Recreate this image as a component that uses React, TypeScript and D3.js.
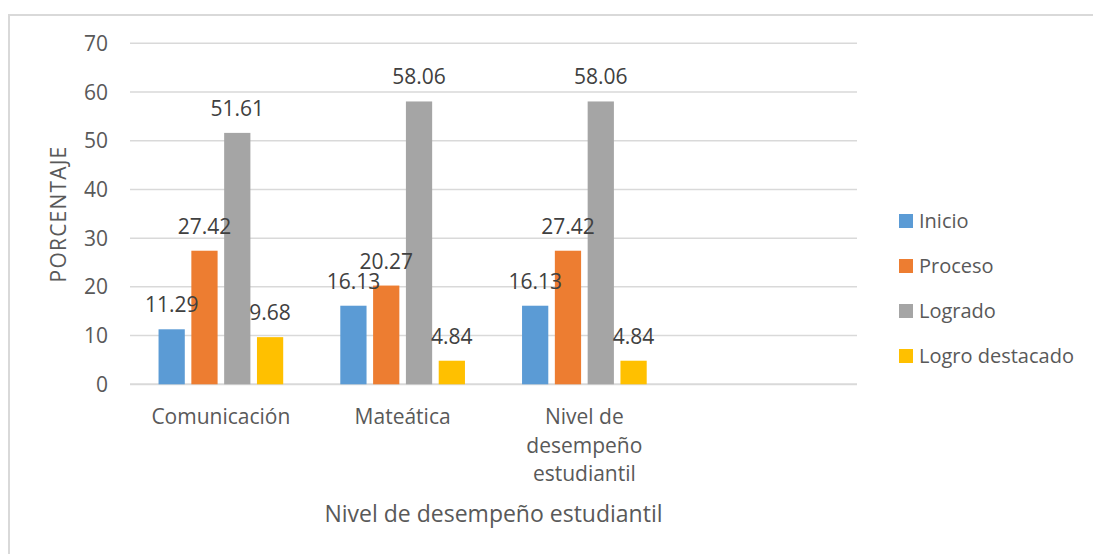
import React, { useEffect, useRef } from 'react';
import * as d3 from 'd3';

const categories = ['Comunicación', 'Mateática', 'Nivel de desempeño estudiantil'];
const series = ['Inicio', 'Proceso', 'Logrado', 'Logro destacado'];
const inicio = [11.29, 16.13, 16.13];
const proceso = [27.42, 20.27, 27.42];
const logrado = [51.61, 58.06, 58.06];
const logroDestacado = [9.68, 4.84, 4.84];
const colors = ['#5B9BD5', '#ED7D31', '#A5A5A5', '#FFC000'];
const yTicks = [0, 10, 20, 30, 40, 50, 60, 70];

const W = 1093;
const H = 554;
const FONT = "'Open Sans', sans-serif";
const TEXT = '#595959';

const App = () => {
  const svgRef = useRef<SVGSVGElement>(null);

  useEffect(() => {
    const svg = d3.select(svgRef.current);
    svg.selectAll('*').remove(); // clear

    const values = [inicio, proceso, logrado, logroDestacado];
    // excel leaves one empty slot at the right
    const slots = [...categories, ''];

    const x0 = d3.scaleBand().domain(slots).range([130, 857]);
    const x1 = d3
      .scaleBand()
      .domain(series)
      .range([0, x0.bandwidth()])
      .paddingInner(0.2)
      .paddingOuter(0.87);
    const y = d3.scaleLinear().domain([0, 70]).range([384.3, 43.3]);

    // outer border of the chart area
    svg.append('rect')
      .attr('x', 9).attr('y', 15)
      .attr('width', 1200).attr('height', 700)
      .attr('fill', 'white')
      .attr('stroke', '#d9d9d9')
      .attr('stroke-width', 2);

    // gridlines
    svg.append('g')
      .selectAll('line')
      .data(yTicks)
      .enter()
      .append('line')
      .attr('x1', 130).attr('x2', 857)
      .attr('y1', (d) => y(d)).attr('y2', (d) => y(d))
      .attr('stroke', '#d9d9d9')
      .attr('stroke-width', (d) => (d === 0 ? 2 : 1.5));

    // y tick labels
    svg.append('g')
      .selectAll('text')
      .data(yTicks)
      .enter()
      .append('text')
      .attr('x', 108)
      .attr('y', (d) => y(d))
      .attr('dy', '0.357em')
      .attr('text-anchor', 'end')
      .style('font-family', FONT)
      .style('font-size', '21px')
      .attr('fill', TEXT)
      .text((d) => d);

    // bars first
    const barX = (s: string, i: number) => (x0(categories[i]) as number) + (x1(s) as number);
    series.forEach((s, si) => {
      svg.append('g')
        .selectAll('rect')
        .data(values[si])
        .enter()
        .append('rect')
        .attr('x', (d, i) => barX(s, i))
        .attr('y', (d) => y(d))
        .attr('width', x1.bandwidth())
        .attr('height', (d) => y(0) - y(d))
        .attr('fill', colors[si]);
    });

    // then data labels on top of every bar
    series.forEach((s, si) => {
      svg.append('g')
        .selectAll('text')
        .data(values[si])
        .enter()
        .append('text')
        .attr('x', (d, i) => barX(s, i) + x1.bandwidth() / 2)
        .attr('y', (d) => y(d) - 17)
        .attr('text-anchor', 'middle')
        .style('font-family', FONT)
        .style('font-size', '21px')
        .attr('fill', '#404040')
        .text((d) => d.toFixed(2));
    });

    // category labels, wrapped to the band width
    const maxW = 170;
    categories.forEach((c) => {
      const cx = (x0(c) as number) + x0.bandwidth() / 2;
      const t = svg.append('text')
        .attr('text-anchor', 'middle')
        .style('font-family', FONT)
        .style('font-size', '21px')
        .attr('fill', TEXT);
      const words = c.split(' ');
      let line: string[] = [];
      let lineNo = 0;
      let tspan = t.append('tspan').attr('x', cx).attr('y', 424);
      words.forEach((w) => {
        line.push(w);
        tspan.text(line.join(' '));
        if ((tspan.node() as SVGTSpanElement).getComputedTextLength() > maxW && line.length > 1) {
          line.pop();
          tspan.text(line.join(' '));
          line = [w];
          lineNo++;
          tspan = t.append('tspan').attr('x', cx).attr('y', 424 + lineNo * 28.5).text(w);
        }
      });
    });

    // axis titles
    svg.append('text')
      .attr('transform', 'translate(66,214) rotate(-90)')
      .attr('text-anchor', 'middle')
      .style('font-family', FONT)
      .style('font-size', '21px')
      .style('letter-spacing', '1.2px')
      .attr('fill', TEXT)
      .text('PORCENTAJE');

    svg.append('text')
      .attr('x', 493.5)
      .attr('y', 522)
      .attr('text-anchor', 'middle')
      .style('font-family', FONT)
      .style('font-size', '23px')
      .attr('fill', TEXT)
      .text('Nivel de desempeño estudiantil');

    // legend
    const leg = svg.append('g');
    series.forEach((s, i) => {
      const cy = 221 + i * 45;
      leg.append('rect')
        .attr('x', 899).attr('y', cy - 7)
        .attr('width', 14).attr('height', 14)
        .attr('fill', colors[i]);
      leg.append('text')
        .attr('x', 919).attr('y', cy)
        .attr('dy', '0.357em')
        .style('font-family', FONT)
        .style('font-size', '20px')
        .attr('fill', TEXT)
        .text(s);
    });
  }, []);

  return (
    <svg
      ref={svgRef}
      width={W}
      height={H}
      style={{ position: 'absolute', left: 0, top: 0, background: 'white' }}
    ></svg>
  );
};

export default App;
